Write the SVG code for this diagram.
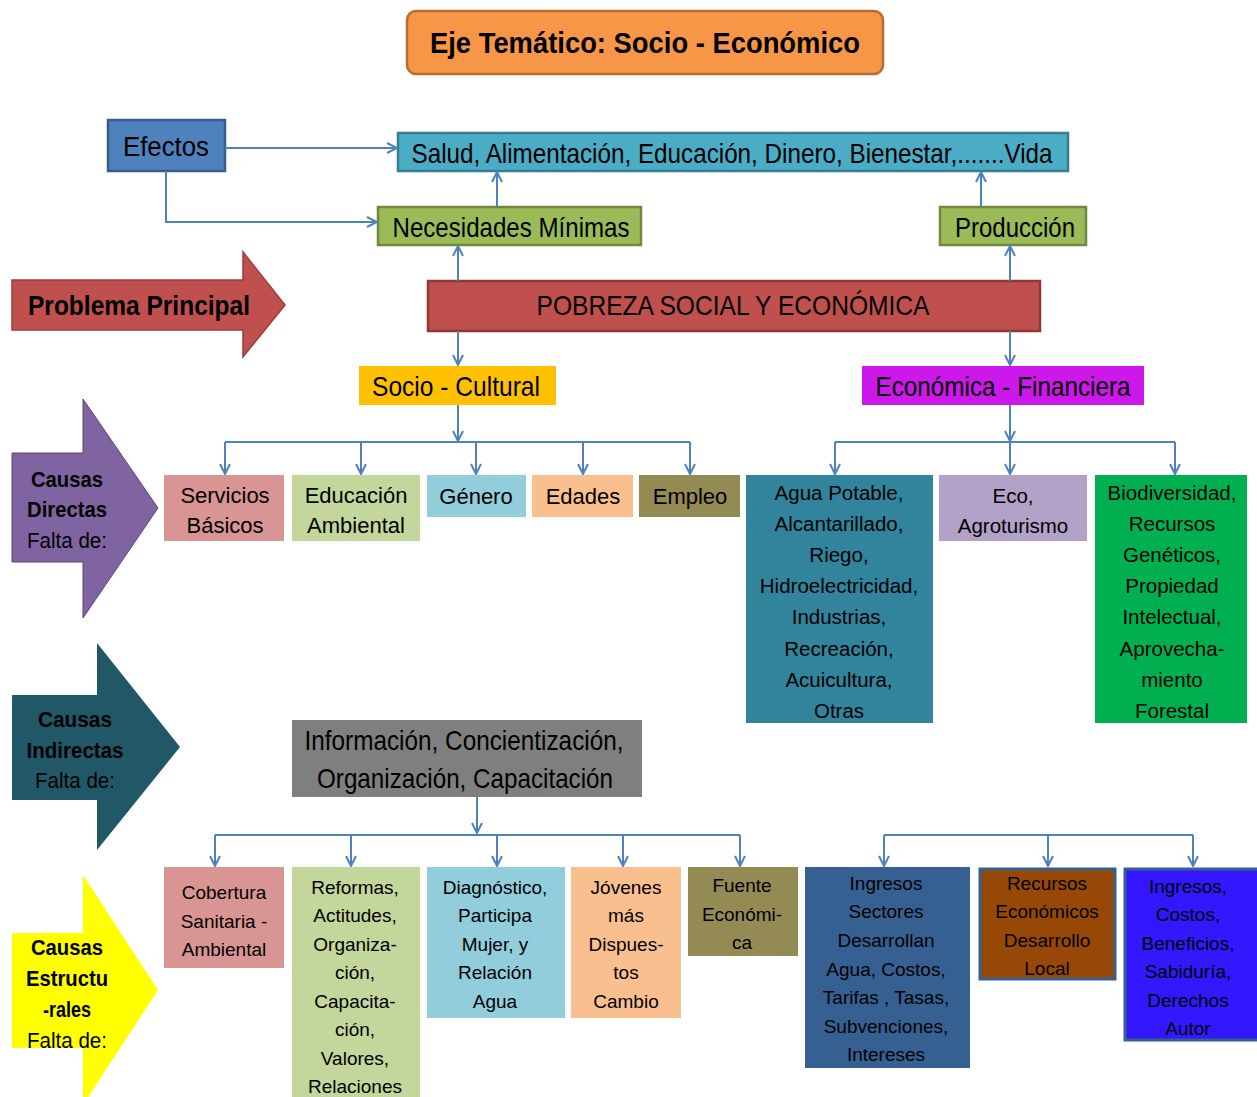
<svg xmlns="http://www.w3.org/2000/svg" width="1257" height="1097" viewBox="0 0 1257 1097">
<defs>
<marker id="ah" viewBox="0 0 12 12" refX="11" refY="6" markerWidth="12" markerHeight="12" markerUnits="userSpaceOnUse" orient="auto">
<path d="M1,1 L11,6 L1,11" fill="none" stroke="#4F81BD" stroke-width="2"/>
</marker>
</defs>
<style>
text{font-family:"Liberation Sans",Arial,sans-serif;fill:#000;text-anchor:middle}
.n{font-family:"Liberation Sans Narrow","Liberation Sans",Arial,sans-serif}
.b{font-weight:bold}
.t28{font-size:28px}
.t22{font-size:22px}
.t21{font-size:20.5px}
.t19{font-size:19px}
.c{fill:none;stroke:#4F81BD;stroke-width:2}
.ca{fill:none;stroke:#4F81BD;stroke-width:2;marker-end:url(#ah)}
</style>
<rect width="1257" height="1097" fill="#fff"/>

<g id="title">
<rect x="407" y="11" width="476" height="63" rx="9" fill="#F79646" stroke="#B66D31" stroke-width="2.5"/>
<text class="n b" x="645" y="53" font-size="30" textLength="430" lengthAdjust="spacingAndGlyphs">Eje Temático: Socio - Económico</text>
</g>

<g id="efectos">
<rect x="108" y="120" width="117" height="51" fill="#4F81BD" stroke="#385D8A" stroke-width="2.5"/>
<text class="n" x="166" y="156" font-size="27" textLength="86" lengthAdjust="spacingAndGlyphs">Efectos</text>
</g>

<g id="salud">
<rect x="398" y="133" width="670" height="38" fill="#4BACC6" stroke="#357D91" stroke-width="2.5"/>
<text class="n t28" x="732" y="163" textLength="641" lengthAdjust="spacingAndGlyphs">Salud, Alimentación, Educación, Dinero, Bienestar,.......Vida</text>
</g>

<g id="necesidades">
<rect x="378" y="207" width="263" height="38" fill="#9BBB59" stroke="#71893F" stroke-width="2.5"/>
<text class="n t28" x="511" y="237" textLength="237" lengthAdjust="spacingAndGlyphs">Necesidades Mínimas</text>
</g>

<g id="produccion">
<rect x="940" y="207" width="146" height="38" fill="#9BBB59" stroke="#71893F" stroke-width="2.5"/>
<text class="n t28" x="1015" y="237" textLength="120" lengthAdjust="spacingAndGlyphs">Producción</text>
</g>

<g id="problema">
<path d="M12,280 H243 V252 L285,305 L243,357 V330 H12 Z" fill="#C0504D" stroke="#9B3C3A" stroke-width="1.5"/>
<text class="n b t28" x="139" y="315" textLength="222" lengthAdjust="spacingAndGlyphs">Problema Principal</text>
</g>

<g id="pobreza">
<rect x="428" y="281" width="612" height="50" fill="#C0504D" stroke="#8C3836" stroke-width="2.5"/>
<text class="n t28" x="733" y="315" textLength="393" lengthAdjust="spacingAndGlyphs">POBREZA SOCIAL Y ECONÓMICA</text>
</g>

<g id="sociocultural">
<rect x="359" y="366" width="197" height="39" fill="#FFC000"/>
<text class="n t28" x="456" y="396" textLength="168" lengthAdjust="spacingAndGlyphs">Socio - Cultural</text>
</g>

<g id="economica">
<rect x="862" y="366" width="282" height="39" fill="#CC18EA"/>
<text class="n t28" x="1003" y="396" textLength="255" lengthAdjust="spacingAndGlyphs">Económica - Financiera</text>
</g>

<g id="causas-directas">
<path d="M12,453 H83 V399 L158,508 L83,618 V562 H12 Z" fill="#8064A2" stroke="#5C4776" stroke-width="1"/>
<text class="n b t22" x="67" y="487" textLength="72" lengthAdjust="spacingAndGlyphs">Causas</text>
<text class="n b t22" x="67" y="517" textLength="80" lengthAdjust="spacingAndGlyphs">Directas</text>
<text class="n t22" x="67" y="548" textLength="80" lengthAdjust="spacingAndGlyphs">Falta de:</text>
</g>

<g id="servicios">
<rect x="164" y="475" width="120" height="66" fill="#D99594"/>
<text class="t22" x="225" y="503">Servicios</text>
<text class="t22" x="225" y="533">Básicos</text>
</g>
<g id="educacion">
<rect x="292" y="475" width="128" height="66" fill="#C3D69B"/>
<text class="t22" x="356" y="503">Educación</text>
<text class="t22" x="356" y="533">Ambiental</text>
</g>
<g id="genero">
<rect x="427" y="475" width="99" height="42" fill="#92CDDC"/>
<text class="t22" x="476" y="504">Género</text>
</g>
<g id="edades">
<rect x="532" y="475" width="101" height="42" fill="#FABF8F"/>
<text class="t22" x="583" y="504">Edades</text>
</g>
<g id="empleo">
<rect x="639" y="475" width="101" height="42" fill="#948A54"/>
<text class="t22" x="690" y="504">Empleo</text>
</g>

<g id="agua">
<rect x="746" y="475" width="187" height="248" fill="#31849B"/>
<text class="t21" x="839" y="500">Agua Potable,</text>
<text class="t21" x="839" y="531">Alcantarillado,</text>
<text class="t21" x="839" y="562">Riego,</text>
<text class="t21" x="839" y="593">Hidroelectricidad,</text>
<text class="t21" x="839" y="624">Industrias,</text>
<text class="t21" x="839" y="656">Recreación,</text>
<text class="t21" x="839" y="687">Acuicultura,</text>
<text class="t21" x="839" y="718">Otras</text>
</g>
<g id="eco">
<rect x="939" y="475" width="148" height="66" fill="#B2A2C7"/>
<text class="t21" x="1013" y="503">Eco,</text>
<text class="t21" x="1013" y="533">Agroturismo</text>
</g>
<g id="biodiversidad">
<rect x="1095" y="475" width="152" height="248" fill="#00B050"/>
<text class="t21" x="1172" y="500">Biodiversidad,</text>
<text class="t21" x="1172" y="531">Recursos</text>
<text class="t21" x="1172" y="562">Genéticos,</text>
<text class="t21" x="1172" y="593">Propiedad</text>
<text class="t21" x="1172" y="624">Intelectual,</text>
<text class="t21" x="1172" y="656">Aprovecha-</text>
<text class="t21" x="1172" y="687">miento</text>
<text class="t21" x="1172" y="718">Forestal</text>
</g>

<g id="causas-indirectas">
<path d="M12,695 H97 V643 L180,747 L97,850 V800 H12 Z" fill="#215868"/>
<text class="n b t22" x="75" y="727" textLength="74" lengthAdjust="spacingAndGlyphs">Causas</text>
<text class="n b t22" x="75" y="758" textLength="97" lengthAdjust="spacingAndGlyphs">Indirectas</text>
<text class="n t22" x="75" y="788" textLength="80" lengthAdjust="spacingAndGlyphs">Falta de:</text>
</g>

<g id="informacion">
<rect x="292" y="720" width="350" height="77" fill="#7F7F7F"/>
<text class="n t28" x="464" y="750" textLength="319" lengthAdjust="spacingAndGlyphs">Información, Concientización,</text>
<text class="n t28" x="465" y="788" textLength="296" lengthAdjust="spacingAndGlyphs">Organización, Capacitación</text>
</g>

<g id="causas-estructurales">
<path d="M12,933 H83 V875 L158,990 L83,1105 V1048 H12 Z" fill="#FFFF00"/>
<text class="n b t22" x="67" y="955" textLength="72" lengthAdjust="spacingAndGlyphs">Causas</text>
<text class="n b t22" x="67" y="986" textLength="82" lengthAdjust="spacingAndGlyphs">Estructu</text>
<text class="n b t22" x="67" y="1017" textLength="48" lengthAdjust="spacingAndGlyphs">-rales</text>
<text class="n t22" x="67" y="1048" textLength="80" lengthAdjust="spacingAndGlyphs">Falta de:</text>
</g>

<g id="cobertura">
<rect x="164" y="867" width="120" height="101" fill="#D99594"/>
<text class="t19" x="224" y="899">Cobertura</text>
<text class="t19" x="224" y="928">Sanitaria -</text>
<text class="t19" x="224" y="956">Ambiental</text>
</g>
<g id="reformas">
<rect x="292" y="867" width="128" height="235" fill="#C3D69B"/>
<text class="t19" x="355" y="894">Reformas,</text>
<text class="t19" x="355" y="922">Actitudes,</text>
<text class="t19" x="355" y="951">Organiza-</text>
<text class="t19" x="355" y="979">ción,</text>
<text class="t19" x="355" y="1008">Capacita-</text>
<text class="t19" x="355" y="1036">ción,</text>
<text class="t19" x="355" y="1065">Valores,</text>
<text class="t19" x="355" y="1093">Relaciones</text>
</g>
<g id="diagnostico">
<rect x="427" y="867" width="138" height="151" fill="#92CDDC"/>
<text class="t19" x="495" y="894">Diagnóstico,</text>
<text class="t19" x="495" y="922">Participa</text>
<text class="t19" x="495" y="951">Mujer, y</text>
<text class="t19" x="495" y="979">Relación</text>
<text class="t19" x="495" y="1008">Agua</text>
</g>
<g id="jovenes">
<rect x="571" y="867" width="110" height="151" fill="#FABF8F"/>
<text class="t19" x="626" y="894">Jóvenes</text>
<text class="t19" x="626" y="922">más</text>
<text class="t19" x="626" y="951">Dispues-</text>
<text class="t19" x="626" y="979">tos</text>
<text class="t19" x="626" y="1008">Cambio</text>
</g>
<g id="fuente">
<rect x="688" y="867" width="110" height="89" fill="#948A54"/>
<text class="t19" x="742" y="892">Fuente</text>
<text class="t19" x="742" y="921">Económi-</text>
<text class="t19" x="742" y="949">ca</text>
</g>

<g id="ingresos-sectores">
<rect x="805" y="867" width="165" height="201" fill="#366092"/>
<text class="t19" x="886" y="890">Ingresos</text>
<text class="t19" x="886" y="918">Sectores</text>
<text class="t19" x="886" y="947">Desarrollan</text>
<text class="t19" x="886" y="976">Agua, Costos,</text>
<text class="t19" x="886" y="1004">Tarifas , Tasas,</text>
<text class="t19" x="886" y="1033">Subvenciones,</text>
<text class="t19" x="886" y="1061">Intereses</text>
</g>
<g id="recursos">
<rect x="980" y="869" width="135" height="110" fill="#974806" stroke="#366092" stroke-width="3"/>
<text class="t19" x="1047" y="890">Recursos</text>
<text class="t19" x="1047" y="918">Económicos</text>
<text class="t19" x="1047" y="947">Desarrollo</text>
<text class="t19" x="1047" y="975">Local</text>
</g>
<g id="ingresos-costos">
<rect x="1125" y="869" width="134" height="171" fill="#3318FF" stroke="#366092" stroke-width="3"/>
<text class="t19" x="1188" y="893">Ingresos,</text>
<text class="t19" x="1188" y="921">Costos,</text>
<text class="t19" x="1188" y="950">Beneficios,</text>
<text class="t19" x="1188" y="978">Sabiduría,</text>
<text class="t19" x="1188" y="1007">Derechos</text>
<text class="t19" x="1188" y="1035">Autor</text>
</g>

<g id="connectors">
<path class="ca" d="M225,148 H397"/>
<path class="ca" d="M166,171 V222 H377"/>
<path class="ca" d="M497,207 V172"/>
<path class="ca" d="M981,207 V172"/>
<path class="ca" d="M458,281 V246"/>
<path class="ca" d="M1010,281 V246"/>
<path class="ca" d="M458,331 V365"/>
<path class="ca" d="M1010,331 V365"/>
<path class="ca" d="M458,405 V441"/>
<path class="c" d="M225,442 H690"/>
<path class="ca" d="M225,442 V474"/>
<path class="ca" d="M361,442 V474"/>
<path class="ca" d="M476,442 V474"/>
<path class="ca" d="M583,442 V474"/>
<path class="ca" d="M690,442 V474"/>
<path class="ca" d="M1010,405 V441"/>
<path class="c" d="M835,442 H1175"/>
<path class="ca" d="M835,442 V474"/>
<path class="ca" d="M1010,442 V474"/>
<path class="ca" d="M1175,442 V474"/>
<path class="ca" d="M477,797 V833"/>
<path class="c" d="M215,835 H740"/>
<path class="ca" d="M215,835 V866"/>
<path class="ca" d="M351,835 V866"/>
<path class="ca" d="M497,835 V866"/>
<path class="ca" d="M623,835 V866"/>
<path class="ca" d="M740,835 V866"/>
<path class="c" d="M884,835 H1193"/>
<path class="ca" d="M884,835 V866"/>
<path class="ca" d="M1048,835 V866"/>
<path class="ca" d="M1193,835 V866"/>
</g>
</svg>
